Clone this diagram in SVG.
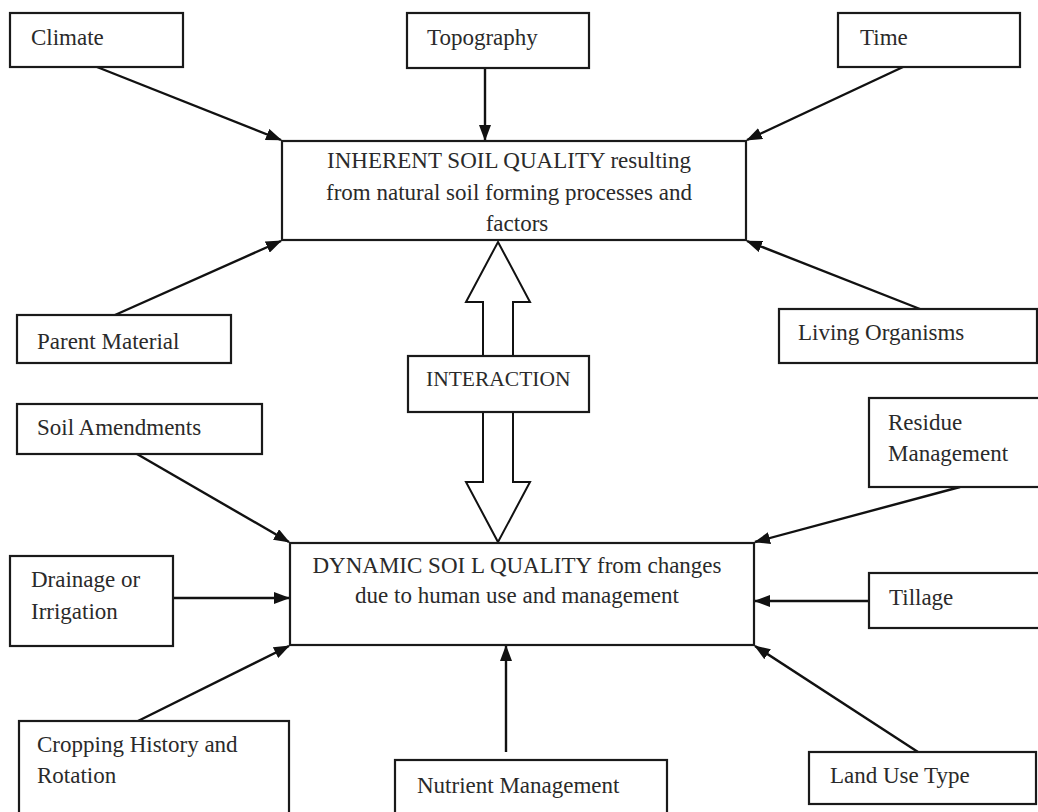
<svg xmlns="http://www.w3.org/2000/svg" width="1038" height="812" viewBox="0 0 1038 812">
<style>
.box{fill:#fff;stroke:#1a1a1a;stroke-width:2.2}
.t{font-family:"Liberation Serif","Times New Roman",serif;font-size:23px;fill:#2a2a2a}
.c{text-anchor:middle}
.ln{stroke:#111;stroke-width:2.4;fill:none}
.big{fill:#fff;stroke:#111;stroke-width:2}
</style>
<defs>
<marker id="ah" markerUnits="userSpaceOnUse" markerWidth="16" markerHeight="12" viewBox="0 0 16 12" refX="15" refY="6" orient="auto">
<path d="M0,0 L16,6 L0,12 Z" fill="#111"/>
</marker>
</defs>
<rect width="1038" height="812" fill="#fff"/>

<g id="connectors">
<line class="ln" x1="97" y1="67" x2="281" y2="140" marker-end="url(#ah)"/>
<line class="ln" x1="485" y1="68" x2="485" y2="140" marker-end="url(#ah)"/>
<line class="ln" x1="903" y1="67" x2="747" y2="140" marker-end="url(#ah)"/>
<line class="ln" x1="115" y1="315" x2="281" y2="241" marker-end="url(#ah)"/>
<line class="ln" x1="920" y1="309" x2="747" y2="241" marker-end="url(#ah)"/>
<line class="ln" x1="137" y1="454" x2="289" y2="542" marker-end="url(#ah)"/>
<line class="ln" x1="173" y1="598" x2="289" y2="598" marker-end="url(#ah)"/>
<line class="ln" x1="138" y1="721" x2="289" y2="646" marker-end="url(#ah)"/>
<line class="ln" x1="506" y1="752" x2="506" y2="646" marker-end="url(#ah)"/>
<line class="ln" x1="960" y1="487" x2="755" y2="542" marker-end="url(#ah)"/>
<line class="ln" x1="869" y1="601" x2="755" y2="601" stroke-width="3.4" marker-end="url(#ah)"/>
<line class="ln" x1="918" y1="752" x2="755" y2="646" marker-end="url(#ah)"/>
<path class="big" d="M498,242 L530,302 L513,302 L513,356 L483,356 L483,302 L466,302 Z"/>
<path class="big" d="M498,542 L530,482 L513,482 L513,412 L483,412 L483,482 L466,482 Z"/>
</g>

<g id="climate"><rect class="box" x="10" y="13" width="173" height="54"/><text class="t" x="31" y="45">Climate</text></g>
<g id="topography"><rect class="box" x="407" y="13" width="182" height="55"/><text class="t" x="427" y="45">Topography</text></g>
<g id="time"><rect class="box" x="838" y="13" width="182" height="54"/><text class="t" x="860" y="45">Time</text></g>

<g id="inherent"><rect class="box" x="282" y="141" width="464" height="99"/>
<text class="t c" x="509" y="168">INHERENT SOIL QUALITY resulting</text>
<text class="t c" x="509" y="200">from natural soil forming processes and</text>
<text class="t c" x="517" y="231">factors</text></g>

<g id="parent-material"><rect class="box" x="17" y="315" width="214" height="48"/><text class="t" x="37" y="349">Parent Material</text></g>
<g id="living-organisms"><rect class="box" x="779" y="309" width="258" height="54"/><text class="t" x="798" y="340">Living Organisms</text></g>

<g id="interaction"><rect class="box" x="408" y="356" width="181" height="56"/><text class="t" x="426" y="386" style="font-size:21.5px">INTERACTION</text></g>

<g id="soil-amendments"><rect class="box" x="17" y="404" width="245" height="50"/><text class="t" x="37" y="435">Soil Amendments</text></g>
<g id="residue-management"><rect class="box" x="869" y="398" width="180" height="89"/><text class="t" x="888" y="430">Residue</text><text class="t" x="888" y="461">Management</text></g>

<g id="drainage"><rect class="box" x="10" y="556" width="163" height="90"/><text class="t" x="31" y="587">Drainage or</text><text class="t" x="31" y="619">Irrigation</text></g>

<g id="dynamic"><rect class="box" x="290" y="543" width="464" height="102"/>
<text class="t c" x="517" y="573">DYNAMIC SOI L QUALITY from changes</text>
<text class="t c" x="517" y="603">due to human use and management</text></g>

<g id="tillage"><rect class="box" x="869" y="573" width="180" height="55"/><text class="t" x="889" y="605">Tillage</text></g>

<g id="cropping"><rect class="box" x="19" y="721" width="270" height="100"/><text class="t" x="37" y="752">Cropping History and</text><text class="t" x="37" y="783">Rotation</text></g>
<g id="nutrient"><rect class="box" x="395" y="760" width="272" height="70"/><text class="t" x="417" y="793">Nutrient Management</text></g>
<g id="land-use"><rect class="box" x="809" y="752" width="227" height="52"/><text class="t" x="830" y="783">Land Use Type</text></g>
</svg>
